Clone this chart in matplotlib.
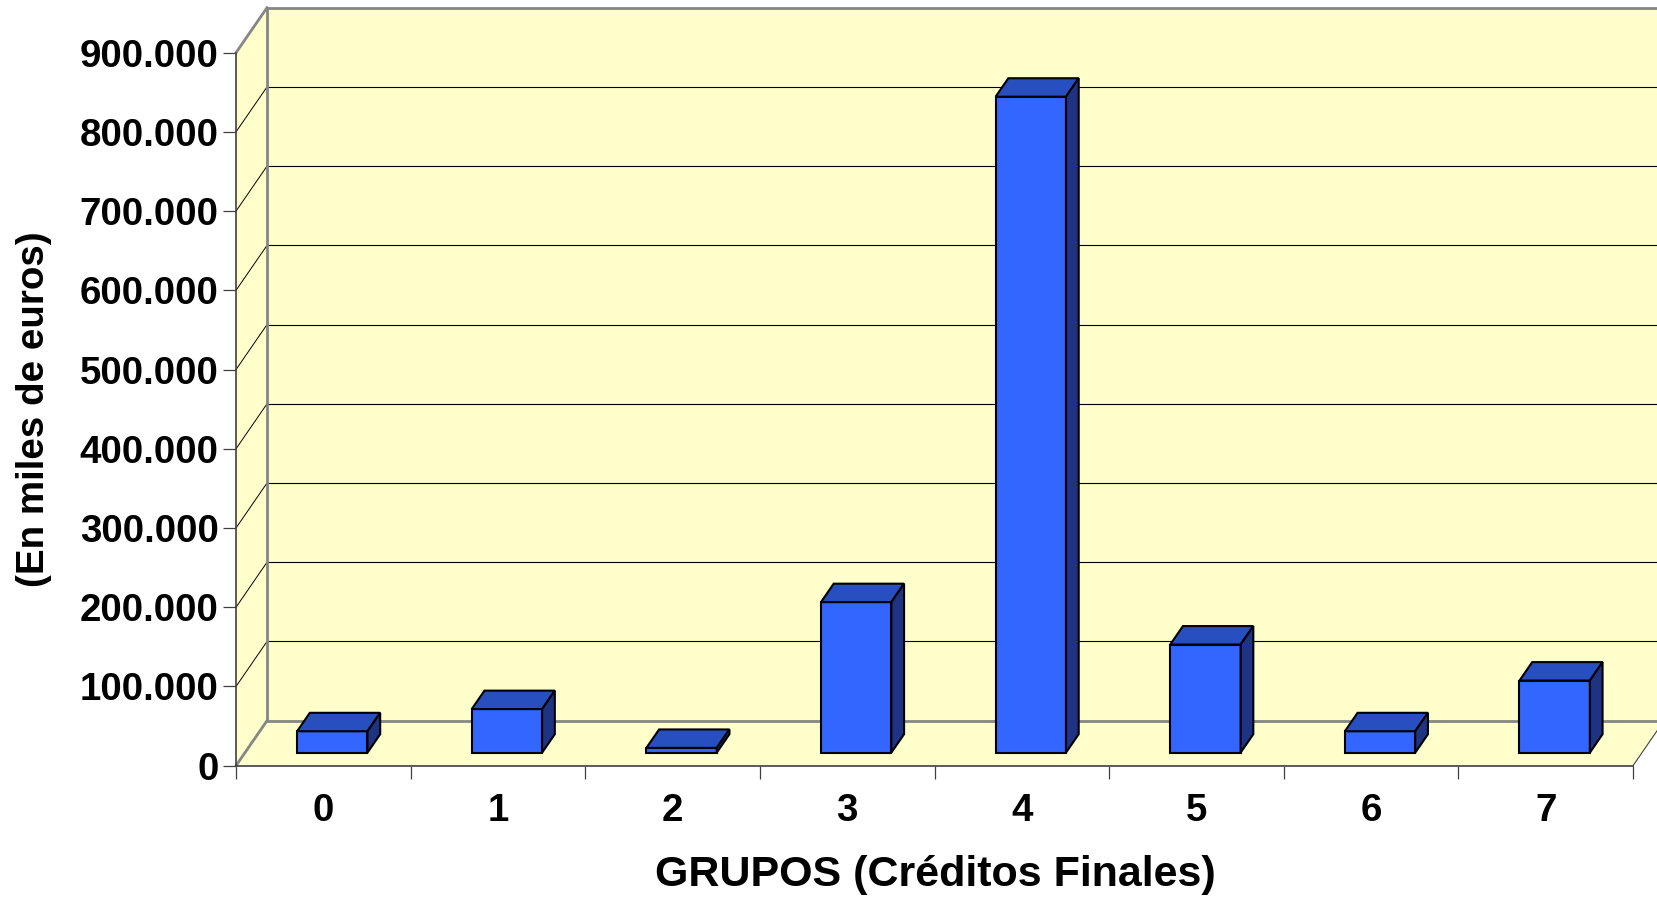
import matplotlib
matplotlib.use("Agg")
import matplotlib.pyplot as plt
from matplotlib.patches import Polygon

plt.rcParams["font.family"] = ["Liberation Sans", "DejaVu Sans"]
plt.rcParams["font.weight"] = "bold"

GROUPS = ["0", "1", "2", "3", "4", "5", "6", "7"]
VALUES = [27000, 55000, 6000, 190000, 828000, 136500, 27000, 91000]
Y_TICKS = [0, 100000, 200000, 300000, 400000, 500000, 600000, 700000, 800000, 900000]
Y_LABELS = ["0", "100.000", "200.000", "300.000", "400.000", "500.000",
            "600.000", "700.000", "800.000", "900.000"]

W, H = 1657, 901
LEFT, RIGHT, BASE, TOP = 236, 1633, 765.7, 52.7

WALL = "#FFFFCC"
GREY = "#868686"
DARK = "#404040"
FRONT = "#3366FF"
ROOF = "#284FBF"
SIDE = "#1F3385"

# depth of the fake 3D box, in data units
UNIT_X = (RIGHT - LEFT) / len(GROUPS)
UNIT_Y = (BASE - TOP) / max(Y_TICKS)
DX = 31 / UNIT_X
DY = 45 / UNIT_Y

BAR_W = 0.403
BAR_NEAR = 0.29
BAR_FAR = 0.70

fig = plt.figure(figsize=(W / 100, H / 100), dpi=100, facecolor="white")
ax = fig.add_axes([LEFT / W, 1 - BASE / H, (RIGHT - LEFT) / W, (BASE - TOP) / H])
ax.set_xlim(0, len(GROUPS))
ax.set_ylim(0, max(Y_TICKS))
ax.patch.set_visible(False)


def face(points, color, zorder=1):
    ax.add_patch(Polygon(points, closed=True, facecolor=color, edgecolor="none",
                         clip_on=False, zorder=zorder))


def edge(xs, ys, color, lw, zorder=2):
    ax.plot(xs, ys, color=color, lw=lw, clip_on=False, zorder=zorder,
            solid_capstyle="projecting")


# ── walls and floor ──────────────────────────────────────
n = len(GROUPS)
ymax = max(Y_TICKS)
face([(0, 0), (DX, DY), (DX, ymax + DY), (0, ymax)], WALL)
face([(DX, DY), (n + DX, DY), (n + DX, ymax + DY), (DX, ymax + DY)], WALL)
face([(0, 0), (n, 0), (n + DX, DY), (DX, DY)], WALL)

# ── gridlines ────────────────────────────────────────────
for v in Y_TICKS[1:-1]:
    edge([DX, n + DX], [v + DY, v + DY], "black", 0.8)
    edge([0, DX], [v, v + DY], "black", 0.7)

edge([n, n + DX], [0, DY], DARK, 0.8)
edge([DX, DX], [DY, ymax + DY], GREY, 2.0, zorder=3)
edge([DX, n + DX], [ymax + DY, ymax + DY], GREY, 2.0, zorder=3)
edge([DX, n + DX], [DY, DY], GREY, 2.0, zorder=3)
edge([0, DX], [0, DY], GREY, 2.0, zorder=3)
edge([0, DX], [ymax, ymax + DY], GREY, 2.0, zorder=3)

# ── bars ─────────────────────────────────────────────────
for i, val in enumerate(VALUES):
    x0 = i + 0.5 - BAR_W / 2 + BAR_NEAR * DX
    x1 = x0 + BAR_W
    y0 = BAR_NEAR * DY
    y1 = y0 + val
    dx = (BAR_FAR - BAR_NEAR) * DX
    dy = (BAR_FAR - BAR_NEAR) * DY
    for pts, col in [
        ([(x0, y0), (x1, y0), (x1, y1), (x0, y1)], FRONT),
        ([(x0, y1), (x1, y1), (x1 + dx, y1 + dy), (x0 + dx, y1 + dy)], ROOF),
        ([(x1, y0), (x1 + dx, y0 + dy), (x1 + dx, y1 + dy), (x1, y1)], SIDE),
    ]:
        ax.add_patch(Polygon(pts, closed=True, facecolor=col, edgecolor="black",
                             lw=1.5, joinstyle="miter", clip_on=False, zorder=5))

# ── axes ─────────────────────────────────────────────────
for name in ["top", "right"]:
    ax.spines[name].set_visible(False)
for name in ["left", "bottom"]:
    ax.spines[name].set_color(DARK)
    ax.spines[name].set_linewidth(1.2)
    ax.spines[name].set_zorder(4)

ax.set_yticks(Y_TICKS)
ax.set_yticklabels(Y_LABELS, fontsize=27.7, fontweight="bold")
ax.tick_params(axis="y", length=9.4, width=0.9, color=DARK, pad=3, labelcolor="black")

ax.set_xticks(range(n + 1))
ax.set_xticklabels([])
ax.tick_params(axis="x", which="major", length=9.2, width=0.9, color=DARK)
ax.set_xticks([i + 0.5 for i in range(n)], labels=GROUPS, minor=True)
ax.tick_params(axis="x", which="minor", length=0, pad=20, labelsize=27.7)

fig.text(935 / W, 1 - 875 / H, "GRUPOS (Créditos Finales)", fontsize=31,
         fontweight="bold", ha="center", va="center")
fig.text(34 / W, 1 - 409 / H, "(En miles de euros)", fontsize=27.7,
         fontweight="bold", rotation=90, ha="center", va="center")

fig.savefig("out.png", dpi=100)
